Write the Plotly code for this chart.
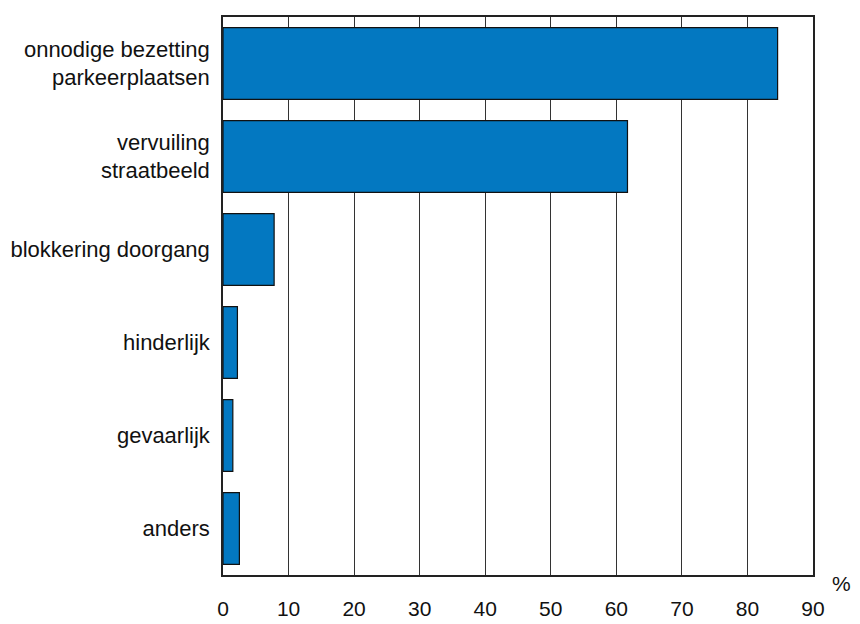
import plotly.graph_objects as go

categories = ["onnodige bezetting<br>parkeerplaatsen", "vervuiling<br>straatbeeld",
              "blokkering doorgang", "hinderlijk", "gevaarlijk", "anders"]
values = [84.6, 61.7, 7.8, 2.2, 1.5, 2.5]
x_ticks = [0, 10, 20, 30, 40, 50, 60, 70, 80, 90]

fig = go.Figure(go.Bar(
    x=values, y=categories, orientation="h",
    marker=dict(color="#0378C1", line=dict(color="#111111", width=1.2)),
    width=0.77,
))

fig.update_layout(
    width=860, height=624,
    margin=dict(l=215, r=55, t=9, b=57),
    paper_bgcolor="white", plot_bgcolor="white",
    font=dict(family="Liberation Sans, Arial, sans-serif", color="#111111"),
    showlegend=False,
    xaxis=dict(range=[0, 90], tickvals=x_ticks, showgrid=True, gridcolor="#333333", gridwidth=1,
               showline=True, linecolor="#222222", linewidth=1.5, mirror=True,
               ticks="outside", ticklen=14, tickcolor="rgba(0,0,0,0)",
               tickfont=dict(size=21), zeroline=False, automargin=False),
    yaxis=dict(categoryorder="array", categoryarray=categories[::-1],
               showline=True, linecolor="#222222", linewidth=1.5, mirror=True,
               ticks="outside", ticklen=7, tickcolor="rgba(0,0,0,0)",
               tickfont=dict(size=22), automargin=False),
    annotations=[dict(text="%", x=1.049, y=-0.016, xref="paper", yref="paper",
                      xanchor="center", yanchor="middle", showarrow=False, font=dict(size=21))],
)

fig.write_html("out.html")
